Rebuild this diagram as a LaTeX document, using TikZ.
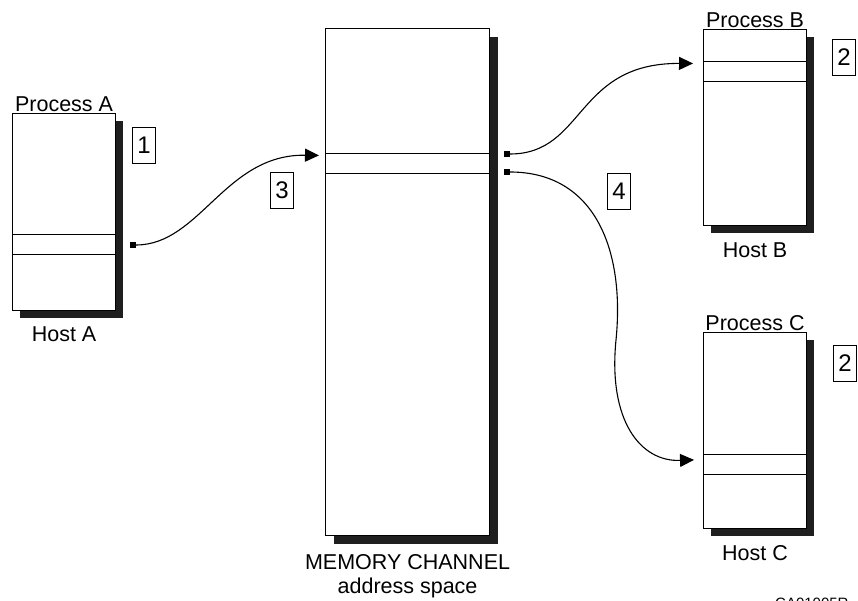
\documentclass[tikz,border=0pt]{standalone}
\usepackage{fontspec}
\setmainfont{Liberation Sans}
\usetikzlibrary{arrows.meta,positioning,shadows,calc}
\tikzset{
  hostbox/.style={draw,line width=1.1pt,fill=white,anchor=north west,inner sep=0pt,
    drop shadow={shadow xshift=#1,shadow yshift=-#1,fill=black!88,opacity=1}},
  hostbox/.default=7pt,
  stripe/.style={draw,line width=1pt,anchor=north west,inner sep=0pt,minimum height=20pt},
  lbl/.style={inner sep=0pt,font=\fontsize{21.5}{24}\selectfont,align=center},
  numbox/.style={draw,line width=0.8pt,inner sep=0pt,minimum width=23pt,minimum height=36pt,font=\fontsize{24}{28}\selectfont},
  port/.style={fill=black,inner sep=0pt,minimum size=5.5pt},
  flow/.style={line width=1.1pt,-{Triangle[length=14pt,width=13pt]},shorten >=8pt},
}
\begin{document}
\begin{tikzpicture}[x=1pt,y=-1pt]
  \useasboundingbox (0,0) rectangle (858,601);
  % host A
  \node[hostbox,minimum width=103pt,minimum height=197pt] (hostA) at (12,113) {};
  \node[stripe,minimum width=103pt] (stripeA) at (12,234) {};
  \node[lbl,above=1pt of hostA] (procA) {Process A};
  \node[lbl,below=15pt of hostA] (hostAl) {Host A};
  % memory channel
  \node[hostbox=8pt,minimum width=164pt,minimum height=507pt] (mem) at (325,28) {};
  \node[stripe,minimum width=164pt] (stripeM) at (325,153) {};
  \node[lbl,below=18pt of mem] (memlbl) {MEMORY CHANNEL\\address space};
  % host B
  \node[hostbox,minimum width=103pt,minimum height=196pt] (hostB) at (703,29) {};
  \node[stripe,minimum width=103pt] (stripeB) at (703,61) {};
  \node[lbl,above=1pt of hostB] (procB) {Process B};
  \node[lbl,below=16pt of hostB] (hostBl) {Host B};
  % host C
  \node[hostbox,minimum width=103pt,minimum height=196pt] (hostC) at (703,332) {};
  \node[stripe,minimum width=103pt] (stripeC) at (703,454) {};
  \node[lbl,above=1pt of hostC] (procC) {Process C};
  \node[lbl,below=16pt of hostC] (hostCl) {Host C};
  % ports
  \node[port] (portA) at (133,245) {};
  \node[port] (portB) at (507,154) {};
  \node[port] (portC) at (507,172) {};
  % step numbers
  \node[numbox] (step1) at (144,145) {1};
  \node[numbox] (step3) at (282,190) {3};
  \node[numbox] (step4) at (619,191) {4};
  \node[numbox] (step2b) at (844,57) {2};
  \node[numbox] (step2c) at (845,363) {2};
  % transfers
  \draw[flow,shorten >=6pt] (portA.east) .. controls (200,245) and (225,154) .. ([yshift=8pt]stripeM.west);
  \draw[flow,shorten >=10pt] (portB.east) .. controls (585,154) and (575,63) .. ([yshift=8pt]stripeB.west);
  \draw[flow,shorten >=9pt] (portC.east) .. controls (595,172) and (625,250) .. (616,340)
    .. controls (608,420) and (640,462) .. ([yshift=5pt]stripeC.west);
  \node[anchor=north west,inner sep=0pt,font=\fontsize{15}{18}\selectfont] (figid) at (775,598) {CA01005R};
\end{tikzpicture}
\end{document}
